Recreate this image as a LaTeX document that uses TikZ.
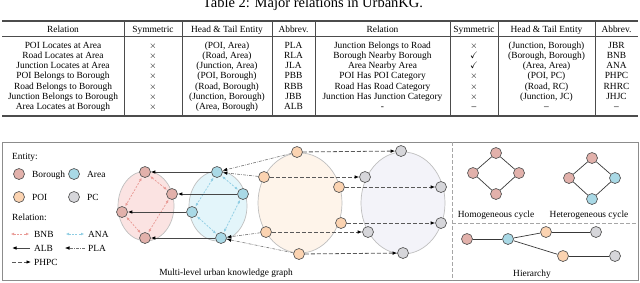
\documentclass[tikz,border=0pt]{standalone}
\usepackage{fontspec}
\setmainfont{Liberation Serif}
\usepackage{amssymb}
\usetikzlibrary{arrows.meta,shapes.geometric}
\newcommand{\tx}{$\times$}
\newcommand{\ck}{$\checkmark$}
\definecolor{cB}{HTML}{E2B1AB}
\definecolor{cA}{HTML}{A9D9E6}
\definecolor{cP}{HTML}{FBD3B1}
\definecolor{cC}{HTML}{D6D6DA}
\definecolor{eB}{HTML}{FBE3E2}
\definecolor{eA}{HTML}{E3F5FA}
\definecolor{eP}{HTML}{FEF4EA}
\definecolor{eC}{HTML}{F3F3F9}
\definecolor{aB}{HTML}{E99A95}
\definecolor{aA}{HTML}{8ECDE3}
\begin{document}
\begin{tikzpicture}[x=1pt,y=-1pt,
  tt/.style={font=\fontsize{9.4}{11}\selectfont, anchor=base, inner sep=0pt},
  lt/.style={font=\fontsize{9.4}{11}\selectfont, anchor=base west, inner sep=0pt},
  ent/.style={circle, draw=black!68, line width=0.65pt, minimum size=11pt, inner sep=0pt},
  bor/.style={ent, fill=cB}, are/.style={ent, fill=cA},
  poi/.style={ent, fill=cP}, pcat/.style={ent, fill=cC},
  cloud/.style={ellipse, draw=black!25, line width=0.7pt, inner sep=0pt},
  tip/.style={-{Latex[length=4.5pt,width=3.6pt,color=black]}},
  alb/.style={tip, draw=black!72, line width=1pt},
  pla/.style={tip, draw=black!55, line width=0.6pt, dash pattern=on 3pt off 1.2pt on 0.7pt off 1.2pt},
  phpc/.style={tip, draw=black!65, line width=0.8pt, dash pattern=on 4pt off 2pt},
  sym/.style={line width=0.7pt, dash pattern=on 2pt off 1.4pt,
    {Latex[length=3.2pt,width=2.8pt]}-{Latex[length=3.2pt,width=2.8pt]}, shorten <=0.8pt, shorten >=0.8pt},
  bnb/.style={sym, draw=aB}, ana/.style={sym, draw=aA},
  rule/.style={draw=black!70},
  sep/.style={draw=black!35, line width=0.6pt, dash pattern=on 4pt off 2pt},
  link/.style={draw=black!78, line width=0.7pt}
]
\useasboundingbox (0,0) rectangle (640,282);

% ---------- title (cut at top, as in the reference) ----------
\node[anchor=base, inner sep=0pt, font=\fontsize{14.5}{16}\selectfont] (title) at (313,7) {Table 2: Major relations in UrbanKG.};

% ---------- table ----------
\draw[rule, line width=1.1pt] (2,21) -- (638,21);
\draw[rule, line width=0.6pt] (2,36) -- (638,36);
\draw[rule, line width=1.1pt] (2,116) -- (638,116);
\foreach \xx in {124,182,272,315,450,498,595}
  \draw[rule, line width=0.5pt] (\xx,21) -- (\xx,116);

\node[tt] (hr1) at (63,32) {Relation};
\node[tt] (hs1) at (153,32) {Symmetric};
\node[tt] (hh1) at (227,32) {Head \& Tail Entity};
\node[tt] (ha1) at (293.5,32) {Abbrev.};
\node[tt] (hr2) at (382.5,32) {Relation};
\node[tt] (hs2) at (474,32) {Symmetric};
\node[tt] (hh2) at (546.5,32) {Head \& Tail Entity};
\node[tt] (ha2) at (616.5,32) {Abbrev.};

\foreach \n/\y/\a/\s/\h/\b in {
  1/48.0/{POI Locates at Area}/\tx/{(POI, Area)}/PLA,
  2/58.3/{Road Locates at Area}/\tx/{(Road, Area)}/RLA,
  3/68.6/{Junction Locates at Area}/\tx/{(Junction, Area)}/JLA,
  4/78.9/{POI Belongs to Borough}/\tx/{(POI, Borough)}/PBB,
  5/89.2/{Road Belongs to Borough}/\tx/{(Road, Borough)}/RBB,
  6/99.5/{Junction Belongs to Borough}/\tx/{(Junction, Borough)}/JBB,
  7/109.8/{Area Locates at Borough}/\tx/{(Area, Borough)}/ALB}
{
  \node[tt] (la\n) at (63,\y) {\a};
  \node[tt] (ls\n) at (153,\y) {\s};
  \node[tt] (lh\n) at (227,\y) {\h};
  \node[tt] (lb\n) at (293.5,\y) {\b};
}
\foreach \n/\y/\a/\s/\h/\b in {
  1/48.0/{Junction Belongs to Road}/\tx/{(Junction, Borough)}/JBR,
  2/58.3/{Borough Nearby Borough}/\ck/{(Borough, Borough)}/BNB,
  3/68.6/{Area Nearby Area}/\ck/{(Area, Area)}/ANA,
  4/78.9/{POI Has POI Category}/\tx/{(POI, PC)}/PHPC,
  5/89.2/{Road Has Road Category}/\tx/{(Road, RC)}/RHRC,
  6/99.5/{Junction Has Junction Category}/\tx/{(Junction, JC)}/JHJC,
  7/109.8/{-}/{--}/{--}/{--}}
{
  \node[tt] (ra\n) at (382.5,\y) {\a};
  \node[tt] (rs\n) at (474,\y) {\s};
  \node[tt] (rh\n) at (546.5,\y) {\h};
  \node[tt] (rb\n) at (616.5,\y) {\b};
}

% ---------- figure frame ----------
\draw[draw=black!45, line width=0.7pt] (2,142) rectangle (638,280);
\draw[sep] (452,142) -- (452,280);
\draw[sep] (452,223) -- (638,223);

% ---------- legend ----------
\node[lt] (entity) at (12,159) {Entity:};
\node[bor] (kB) at (19,174) {};
\node[lt] (kBt) at (32,177) {Borough};
\node[are] (kA) at (74,174) {};
\node[lt] (kAt) at (87,177) {Area};
\node[poi] (kP) at (19,197) {};
\node[lt] (kPt) at (32,200) {POI};
\node[pcat] (kC) at (74,197) {};
\node[lt] (kCt) at (87,200) {PC};
\node[lt] (relation) at (12,220) {Relation:};
\coordinate (g1a) at (10,234); \coordinate (g1b) at (30,234);
\draw[bnb] (g1a) -- (g1b);
\node[lt] (g1t) at (34,237) {BNB};
\coordinate (g2a) at (65,234); \coordinate (g2b) at (85,234);
\draw[ana] (g2a) -- (g2b);
\node[lt] (g2t) at (88,237) {ANA};
\coordinate (g3a) at (30,248); \coordinate (g3b) at (12,248);
\draw[alb] (g3a) -- (g3b);
\node[lt] (g3t) at (34,251) {ALB};
\coordinate (g4a) at (85,248); \coordinate (g4b) at (65,248);
\draw[pla] (g4a) -- (g4b);
\node[lt] (g4t) at (88,251) {PLA};
\coordinate (g5a) at (12,262); \coordinate (g5b) at (31,262);
\draw[phpc] (g5a) -- (g5b);
\node[lt] (g5t) at (34,265) {PHPC};

% ---------- multi-level graph ----------
\node[cloud, fill=eB, minimum width=56pt, minimum height=70pt] (ellB) at (146,206) {};
\node[cloud, fill=eA, minimum width=58pt, minimum height=70pt] (ellA) at (218,206) {};
\node[cloud, fill=eP, minimum width=84pt, minimum height=100pt] (ellP) at (300,203) {};
\node[cloud, fill=eC, minimum width=84pt, minimum height=102pt] (ellC) at (403,203) {};

\node[bor] (B1) at (145,172) {};
\node[bor] (B2) at (172,194) {};
\node[bor] (B3) at (122,212) {};
\node[bor] (B4) at (145,238) {};
\node[are] (A1) at (217,172) {};
\node[are] (A2) at (243,194) {};
\node[are] (A3) at (192,212) {};
\node[are] (A4) at (221,238) {};
\node[poi] (P1) at (297,152) {};
\node[poi] (P2) at (264,177) {};
\node[poi] (P3) at (339,187) {};
\node[poi] (P4) at (341,223) {};
\node[poi] (P5) at (266,232) {};
\node[poi] (P6) at (299,254) {};
\node[pcat] (C1) at (401,151) {};
\node[pcat] (C2) at (365,177) {};
\node[pcat] (C3) at (441,187) {};
\node[pcat] (C4) at (441,223) {};
\node[pcat] (C5) at (368,232) {};
\node[pcat] (C6) at (403,253) {};

\draw[bnb] (B1) -- (B3);
\draw[bnb] (B1) -- (B2);
\draw[bnb] (B3) -- (B4);
\draw[bnb] (B2) -- (B4);
\draw[ana] (A1) -- (A3);
\draw[ana] (A1) -- (A2);
\draw[ana] (A3) -- (A4);
\draw[ana] (A2) -- (A4);

\draw[alb] (A1) -- (B1);
\draw[alb] (A2) -- (B2);
\draw[alb] (A3) -- (B3);
\draw[alb] (A4) -- (B4);

\draw[pla] (P1) -- (A1);
\draw[pla] (P2) -- (A1);
\draw[pla] (P5) -- (A4);
\draw[pla] (P6) -- (A4);

\draw[phpc] (P1) -- (C1);
\draw[phpc] (P2) -- (C2);
\draw[phpc] (P3) -- (C3);
\draw[phpc] (P4) -- (C4);
\draw[phpc] (P5) -- (C5);
\draw[phpc] (P6) -- (C6);

\node[tt] (capG) at (226,275) {Multi-level urban knowledge graph};

% ---------- cycles ----------
\node[bor] (H1) at (496,153) {};
\node[bor] (H2) at (473,173) {};
\node[bor] (H3) at (519,173) {};
\node[bor] (H4) at (496,194) {};
\draw[link] (H1) -- (H2); \draw[link] (H1) -- (H3);
\draw[link] (H2) -- (H4); \draw[link] (H3) -- (H4);
\node[tt] (capH) at (496,217) {Homogeneous cycle};

\node[bor] (E1) at (592,158) {};
\node[bor] (E2) at (569,178) {};
\node[are] (E3) at (615,178) {};
\node[are] (E4) at (592,199) {};
\draw[link] (E1) -- (E2); \draw[link] (E1) -- (E3);
\draw[link] (E2) -- (E4); \draw[link] (E3) -- (E4);
\node[tt] (capE) at (589,217) {Heterogeneous cycle};

% ---------- hierarchy ----------
\node[bor] (R1) at (467,239) {};
\node[are] (R2) at (508,239) {};
\node[poi] (R3) at (546,232) {};
\node[pcat] (R4) at (596,232) {};
\node[poi] (R5) at (563,256) {};
\node[pcat] (R6) at (615,256) {};
\draw[link] (R1) -- (R2);
\draw[link] (R2) -- (R3);
\draw[link] (R3) -- (R4);
\draw[link] (R2) -- (R5);
\draw[link] (R5) -- (R6);
\node[tt] (capR) at (532,276) {Hierarchy};
\end{tikzpicture}
\end{document}
